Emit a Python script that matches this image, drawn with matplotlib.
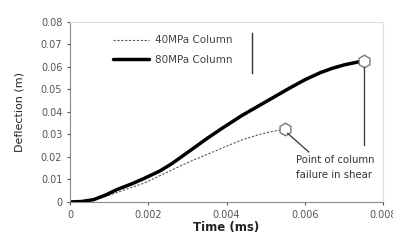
import matplotlib.pyplot as plt

# --- data ---
t_80 = [0, 0.0003, 0.0006, 0.0009, 0.0012, 0.0016, 0.0019, 0.0023, 0.0026, 0.0031, 0.0035,
        0.0039, 0.0044, 0.0048, 0.0051, 0.0056, 0.0060, 0.0064, 0.0067, 0.0070, 0.0073, 0.0075]
d_80 = [0, 0.0002, 0.0010, 0.0030, 0.0055, 0.0082, 0.0105, 0.0138, 0.0170, 0.0232, 0.0282,
        0.0329, 0.0385, 0.0425, 0.0455, 0.0505, 0.0543, 0.0575, 0.0594, 0.0609, 0.0620, 0.0627]

t_40 = [0, 0.0003, 0.0006, 0.0010, 0.0015, 0.0019, 0.0026, 0.0031, 0.0036, 0.0040, 0.0044,
        0.0048, 0.0051, 0.0055]
d_40 = [0, 0.0002, 0.0009, 0.0030, 0.0060, 0.0084, 0.0142, 0.0182, 0.0218, 0.0248, 0.0276,
        0.0298, 0.0311, 0.0324]

x_ticks = [0, 0.002, 0.004, 0.006, 0.008]
x_labels = ["0", "0.002", "0.004", "0.006", "0.008"]
y_ticks = [0, 0.01, 0.02, 0.03, 0.04, 0.05, 0.06, 0.07, 0.08]
y_labels = ["0", "0.01", "0.02", "0.03", "0.04", "0.05", "0.06", "0.07", "0.08"]

plt.rcParams["font.family"] = ["DejaVu Sans"]

fig = plt.figure(figsize=(3.93, 2.41), dpi=100)
ax = fig.add_axes([0.178, 0.162, 0.797, 0.747])

ax.plot(t_40, d_40, color="#555555", lw=0.8, ls=(0, (2, 1.5)), label="40MPa Column")
ax.plot(t_80, d_80, color="black", lw=2.5, solid_capstyle="round",
        solid_joinstyle="round", label="80MPa Column")

# failure markers
ax.plot(t_40[-1], d_40[-1], marker="h", ms=9, mfc="white", mec="#777777", mew=1.0)
ax.plot(t_80[-1], d_80[-1], marker="h", ms=9, mfc="white", mec="#777777", mew=1.0)

ax.text(0.00577, 0.0153, "Point of column\nfailure in shear", fontsize=7.3,
        color="#333333", va="center", ha="left", linespacing=1.7)
ax.plot([0.00556, 0.0061], [0.0305, 0.0222], color="#333333", lw=0.9)
ax.plot([0.0075, 0.0075], [0.0600, 0.0253], color="#333333", lw=0.9)

ax.set_xlim(0, 0.008)
ax.set_ylim(0, 0.08)
ax.set_xticks(x_ticks)
ax.set_xticklabels(x_labels)
ax.set_yticks(y_ticks)
ax.set_yticklabels(y_labels)
ax.tick_params(labelsize=7, colors="#555555", length=2.5, width=0.8, pad=3)
ax.set_xlabel("Time (ms)", fontsize=8.5, fontweight="bold", color="#222222", labelpad=1)
ax.set_ylabel("Deflection (m)", fontsize=8, color="#222222", labelpad=12)

for side in ["left", "bottom"]:
    ax.spines[side].set_color("#888888")
for side in ["top", "right"]:
    ax.spines[side].set_color("#dddddd")

leg = ax.legend(loc="upper left", bbox_to_anchor=(0.137, 0.925), fontsize=7.5,
                frameon=False, handlelength=3.5, handletextpad=0.5, borderpad=0,
                borderaxespad=0, labelspacing=0.9)
for txt in leg.get_texts():
    txt.set_color("#444444")
# right edge of the legend box, the only part of it that shows
ax.plot([0.581, 0.581], [0.717, 0.939], transform=ax.transAxes, color="#333333", lw=1.0)

fig.savefig("out.png", dpi=100)
